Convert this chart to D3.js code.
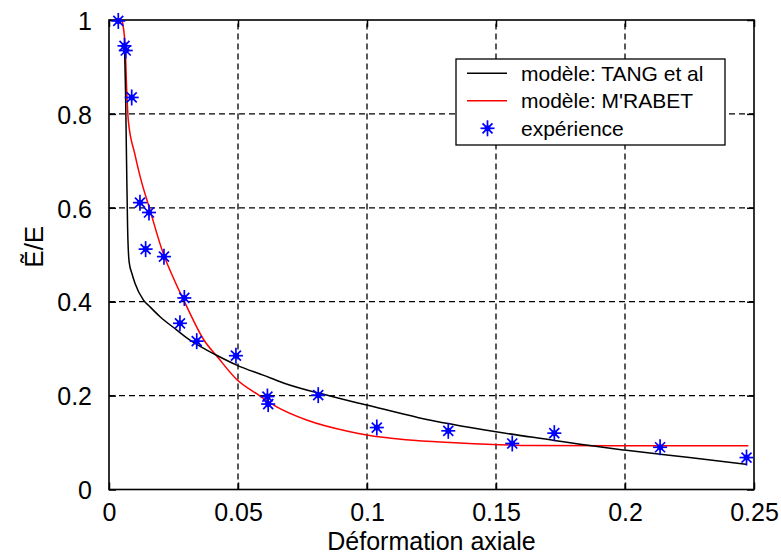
<!DOCTYPE html>
<html>
<head>
<meta charset="utf-8">
<script src="https://cdn.jsdelivr.net/npm/d3@7"></script>
<style>
  html, body { margin: 0; padding: 0; background: #fff; }
  svg { display: block; }
  text { font-family: "Liberation Sans", Arial, Helvetica, sans-serif; fill: #000; }
</style>
</head>
<body>
<svg id="chart" width="781" height="554"></svg>
<script>
// ---- data ----
const xTicks = [0, 0.05, 0.1, 0.15, 0.2, 0.25];
const xTickLabels = ["0", "0.05", "0.1", "0.15", "0.2", "0.25"];
const yTicks = [0, 0.2, 0.4, 0.6, 0.8, 1];
const yTickLabels = ["0", "0.2", "0.4", "0.6", "0.8", "1"];

const seriesNames = ["modèle: TANG et al", "modèle: M'RABET", "expérience"];

const tangX = [0.0060, 0.0064, 0.0068, 0.0072, 0.0078, 0.0090, 0.0101, 0.0133, 0.0159, 0.0198, 0.0262, 0.0314, 0.0379, 0.0417, 0.0495, 0.0600, 0.0676, 0.0850, 0.0999, 0.1200, 0.1500, 0.1726, 0.1826, 0.1997, 0.2250, 0.2471];
const tangY = [0.950, 0.850, 0.700, 0.560, 0.485, 0.458, 0.439, 0.404, 0.389, 0.368, 0.340, 0.318, 0.297, 0.286, 0.265, 0.243, 0.227, 0.200, 0.180, 0.153, 0.123, 0.1045, 0.0962, 0.084, 0.068, 0.0537];

const mrabetX = [0.0050, 0.0062, 0.0069, 0.0075, 0.0100, 0.0120, 0.0159, 0.0210, 0.0250, 0.0295, 0.0366, 0.0424, 0.0494, 0.0572, 0.0650, 0.0766, 0.0934, 0.0999, 0.1150, 0.1340, 0.1645, 0.2000, 0.2478];
const mrabetY = [1.000, 0.950, 0.845, 0.785, 0.715, 0.668, 0.595, 0.503, 0.450, 0.397, 0.320, 0.280, 0.235, 0.204, 0.176, 0.148, 0.123, 0.116, 0.106, 0.0997, 0.0935, 0.093, 0.093];

const expX = [0.0036, 0.0060, 0.0065, 0.0088, 0.0120, 0.0155, 0.0142, 0.0213, 0.0292, 0.0275, 0.0340, 0.0492, 0.0614, 0.0617, 0.0811, 0.1038, 0.1315, 0.1563, 0.1726, 0.2136, 0.2471];
const expY = [0.998, 0.945, 0.935, 0.835, 0.611, 0.590, 0.512, 0.496, 0.408, 0.354, 0.316, 0.285, 0.198, 0.182, 0.201, 0.132, 0.125, 0.098, 0.120, 0.090, 0.068];

// ---- layout ----
const svg = d3.select("#chart");
const pL = 109, pR = 754, pT = 20, pB = 489.5;
const x = d3.scaleLinear().domain([0, 0.25]).range([pL, pR]);
const y = d3.scaleLinear().domain([0, 1]).range([pB, pT]);

svg.append("rect").attr("x", 0).attr("y", 0).attr("width", 781).attr("height", 554).attr("fill", "#fff");

// grid
const grid = svg.append("g").attr("stroke", "#000").attr("stroke-width", 1.3).attr("stroke-dasharray", "6,4");
xTicks.slice(1, -1).forEach(t => {
  grid.append("line").attr("x1", x(t)).attr("x2", x(t)).attr("y1", pB).attr("y2", pT);
});
yTicks.slice(1, -1).forEach(t => {
  grid.append("line").attr("x1", pL).attr("x2", pR).attr("y1", y(t)).attr("y2", y(t));
});

// axes using d3 axis generators (inward ticks)
const tl = 7;
const axB = svg.append("g").attr("transform", `translate(0,${pB})`)
  .call(d3.axisBottom(x).tickValues(xTicks).tickFormat((d, i) => xTickLabels[i]).tickSize(-tl).tickPadding(24));
const axT = svg.append("g").attr("transform", `translate(0,${pT})`)
  .call(d3.axisTop(x).tickValues(xTicks).tickFormat("").tickSize(-tl));
const axL = svg.append("g").attr("transform", `translate(${pL},0)`)
  .call(d3.axisLeft(y).tickValues(yTicks).tickFormat((d, i) => yTickLabels[i]).tickSize(-tl).tickPadding(17));
const axR = svg.append("g").attr("transform", `translate(${pR},0)`)
  .call(d3.axisRight(y).tickValues(yTicks).tickFormat("").tickSize(-tl));
[axB, axT, axL, axR].forEach(a => {
  a.select(".domain").remove();
  a.selectAll(".tick line").attr("stroke", "#000").attr("stroke-width", 1.5);
  a.selectAll("text").attr("font-size", 25).attr("font-family", "Liberation Sans, Arial, sans-serif").attr("fill", "#000");
});
axB.selectAll(".tick text").attr("dy", null).attr("y", 31);
axL.selectAll(".tick text").attr("dy", "0.37em");

// frame
svg.append("rect").attr("x", pL).attr("y", pT).attr("width", pR - pL).attr("height", pB - pT)
  .attr("fill", "none").attr("stroke", "#000").attr("stroke-width", 1.6);

// curves
const line = d3.line().x(d => x(d[0])).y(d => y(d[1])).curve(d3.curveMonotoneX);
const mrabet = mrabetX.map((v, i) => [v, mrabetY[i]]);
const tang = tangX.map((v, i) => [v, tangY[i]]);
svg.append("path").datum(mrabet).attr("d", line).attr("fill", "none").attr("stroke", "#ff0000").attr("stroke-width", 1.5);
svg.append("path").datum(tang).attr("d", line).attr("fill", "none").attr("stroke", "#000").attr("stroke-width", 1.5);

// star markers
function star(g, cx, cy) {
  const a = 7, b = 5;
  const s = g.append("g").attr("transform", `translate(${cx},${cy})`).attr("stroke", "#0000ff").attr("stroke-width", 1.7);
  s.append("line").attr("x1", -a).attr("x2", a).attr("y1", 0).attr("y2", 0);
  s.append("line").attr("x1", 0).attr("x2", 0).attr("y1", -a - 1).attr("y2", a + 1);
  s.append("line").attr("x1", -b).attr("x2", b).attr("y1", -b).attr("y2", b);
  s.append("line").attr("x1", -b).attr("x2", b).attr("y1", b).attr("y2", -b);
  s.append("circle").attr("r", 3).attr("fill", "#0000ff").attr("stroke", "none");
}
const stars = svg.append("g");
expX.forEach((v, i) => star(stars, x(v), y(expY[i])));

// legend
const lg = svg.append("g");
lg.append("rect").attr("x", 456).attr("y", 59).attr("width", 269).attr("height", 86)
  .attr("fill", "#fff").attr("stroke", "#000").attr("stroke-width", 1.3);
const rows = [73.3, 100.7, 128.3];
lg.append("line").attr("x1", 467).attr("x2", 507).attr("y1", rows[0]).attr("y2", rows[0]).attr("stroke", "#000").attr("stroke-width", 1.5);
lg.append("line").attr("x1", 467).attr("x2", 507).attr("y1", rows[1]).attr("y2", rows[1]).attr("stroke", "#ff0000").attr("stroke-width", 1.5);
star(lg, 487.5, rows[2]);
seriesNames.forEach((n, i) => {
  lg.append("text").attr("x", 521).attr("y", rows[i]).attr("dy", "0.36em").attr("font-size", 21).text(n);
});

// axis labels
svg.append("text").attr("x", (pL + pR) / 2).attr("y", 550).attr("text-anchor", "middle").attr("font-size", 25).text("Déformation axiale");
svg.append("text").attr("transform", `translate(43,${(pT + pB) / 2 - 8}) rotate(-90)`).attr("text-anchor", "middle").attr("font-size", 26).text("Ẽ/E");
</script>
</body>
</html>
